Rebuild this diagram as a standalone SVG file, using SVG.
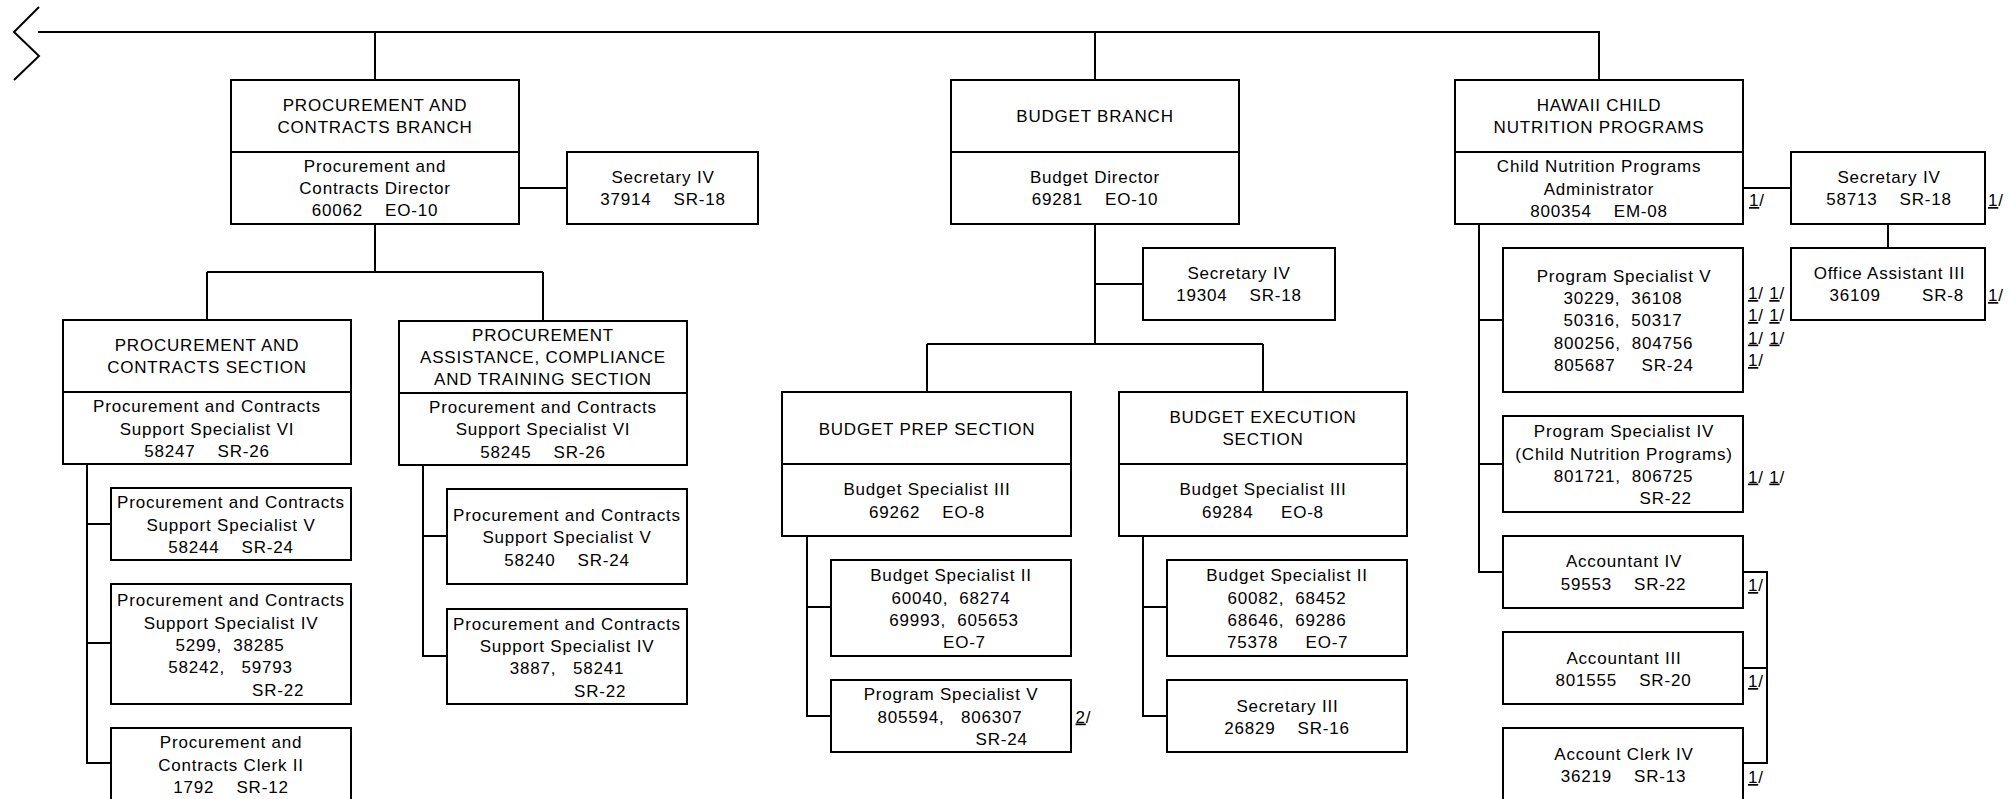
<svg xmlns="http://www.w3.org/2000/svg" width="2008" height="799" viewBox="0 0 2008 799" xml:space="preserve">
<style>
.b{fill:#fff;stroke:#000;stroke-width:2}
.l{fill:none;stroke:#000;stroke-width:2}
text{font-family:"Liberation Sans",Arial,sans-serif;font-size:17px;letter-spacing:0.8px;fill:#000;text-anchor:middle;white-space:pre}
.s{text-anchor:start}
.u{text-decoration:underline}
</style>
<rect width="2008" height="799" fill="#fff"/>
<g id="connectors" class="l">
<polyline points="39,7 14,32 39,56 14,80"/>
<path d="M38,32H1599V80M375,32V80M1095,32V80"/>
<path d="M519,188H567M375,224V272M207,272H543M207,272V320M543,272V321"/>
<path d="M87,464V763H111M87,524H111M87,643H111"/>
<path d="M423,465V656H447M423,536H447"/>
<path d="M1095,224V344M1095,284H1143M927,344H1263M927,344V392M1263,344V392"/>
<path d="M807,536V716H831M807,607H831"/>
<path d="M1143,536V716H1167M1143,607H1167"/>
<path d="M1743,188H1791M1888,224V248M1479,224V572H1503M1479,320H1503M1479,464H1503"/>
<path d="M1743,572H1767V763H1743M1743,668H1767"/>
</g>
<g id="procurement-branch">
<rect class="b" x="231" y="80" width="288" height="144"/><path class="l" d="M231,152H519"/>
<text x="375" y="110.5">PROCUREMENT AND</text>
<text x="375" y="132.5">CONTRACTS BRANCH</text>
<text x="375" y="171.5">Procurement and</text>
<text x="375" y="193.5">Contracts Director</text>
<text x="375" y="216">60062    EO-10</text>
</g>
<g id="secretary-procurement">
<rect class="b" x="567" y="152" width="191" height="72"/>
<text x="663" y="182.5">Secretary IV</text>
<text x="663" y="204.5">37914    SR-18</text>
</g>
<g id="pc-section">
<rect class="b" x="63" y="320" width="288" height="144"/><path class="l" d="M63,392H351"/>
<text x="207" y="351">PROCUREMENT AND</text>
<text x="207" y="373">CONTRACTS SECTION</text>
<text x="207" y="412">Procurement and Contracts</text>
<text x="207" y="434.5">Support Specialist VI</text>
<text x="207" y="456.5">58247    SR-26</text>
</g>
<g id="pact-section">
<rect class="b" x="399" y="321" width="288" height="144"/><path class="l" d="M399,393H687"/>
<text x="543" y="341">PROCUREMENT</text>
<text x="543" y="363">ASSISTANCE, COMPLIANCE</text>
<text x="543" y="385">AND TRAINING SECTION</text>
<text x="543" y="412.5">Procurement and Contracts</text>
<text x="543" y="435">Support Specialist VI</text>
<text x="543" y="457.5">58245    SR-26</text>
</g>
<g id="pcss5-left">
<rect class="b" x="111" y="488" width="240" height="72"/>
<text x="231" y="508">Procurement and Contracts</text>
<text x="231" y="530.5">Support Specialist V</text>
<text x="231" y="552.5">58244    SR-24</text>
</g>
<g id="pcss4-left">
<rect class="b" x="111" y="584" width="240" height="120"/>
<text x="231" y="606">Procurement and Contracts</text>
<text x="231" y="628.5">Support Specialist IV</text>
<text x="230" y="651">5299,  38285</text>
<text x="230.5" y="673">58242,   59793</text>
<text class="s" x="252" y="695.5">SR-22</text>
</g>
<g id="clerk2">
<rect class="b" x="111" y="728" width="240" height="80"/>
<text x="231" y="748">Procurement and</text>
<text x="231" y="770.5">Contracts Clerk II</text>
<text x="231" y="793">1792    SR-12</text>
</g>
<g id="pcss5-right">
<rect class="b" x="447" y="489" width="240" height="95"/>
<text x="567" y="521">Procurement and Contracts</text>
<text x="567" y="543">Support Specialist V</text>
<text x="567" y="565.5">58240    SR-24</text>
</g>
<g id="pcss4-right">
<rect class="b" x="447" y="609" width="240" height="95"/>
<text x="567" y="629.5">Procurement and Contracts</text>
<text x="567" y="652">Support Specialist IV</text>
<text x="567" y="674">3887,   58241</text>
<text class="s" x="574" y="696.5">SR-22</text>
</g>
<g id="budget-branch">
<rect class="b" x="951" y="80" width="288" height="144"/><path class="l" d="M951,152H1239"/>
<text x="1095" y="121.5">BUDGET BRANCH</text>
<text x="1095" y="182.5">Budget Director</text>
<text x="1095" y="205">69281    EO-10</text>
</g>
<g id="secretary-budget">
<rect class="b" x="1143" y="248" width="192" height="72"/>
<text x="1239" y="278.5">Secretary IV</text>
<text x="1239" y="301">19304    SR-18</text>
</g>
<g id="budget-prep">
<rect class="b" x="782" y="392" width="289" height="144"/><path class="l" d="M782,464H1071"/>
<text x="927" y="434.5">BUDGET PREP SECTION</text>
<text x="927" y="494.5">Budget Specialist III</text>
<text x="927" y="517.5">69262    EO-8</text>
</g>
<g id="budget-exec">
<rect class="b" x="1119" y="392" width="288" height="144"/><path class="l" d="M1119,464H1407"/>
<text x="1263" y="422.5">BUDGET EXECUTION</text>
<text x="1263" y="445">SECTION</text>
<text x="1263" y="494.5">Budget Specialist III</text>
<text x="1263" y="517.5">69284     EO-8</text>
</g>
<g id="bs2-prep">
<rect class="b" x="831" y="560" width="240" height="96"/>
<text x="951" y="581">Budget Specialist II</text>
<text x="951" y="603.5">60040,  68274</text>
<text x="954" y="626">69993,  605653</text>
<text class="s" x="943" y="648">EO-7</text>
</g>
<g id="ps5-prep">
<rect class="b" x="831" y="680" width="240" height="72"/>
<text x="951" y="700">Program Specialist V</text>
<text x="950" y="722.5">805594,   806307</text>
<text class="s" x="975.5" y="744.5">SR-24</text>
<text class="s" x="1075.5" y="722.5"><tspan class="u">2</tspan>/</text>
</g>
<g id="bs2-exec">
<rect class="b" x="1167" y="560" width="240" height="96"/>
<text x="1287" y="581">Budget Specialist II</text>
<text x="1287" y="603.5">60082,  68452</text>
<text x="1287" y="626">68646,  69286</text>
<text class="s" y="648"><tspan x="1227">75378</tspan><tspan x="1305.5">EO-7</tspan></text>
</g>
<g id="secretary3">
<rect class="b" x="1167" y="680" width="240" height="72"/>
<text x="1287.5" y="712">Secretary III</text>
<text x="1287" y="734">26829    SR-16</text>
</g>
<g id="hawaii-cnp">
<rect class="b" x="1455" y="80" width="288" height="144"/><path class="l" d="M1455,152H1743"/>
<text x="1599" y="111">HAWAII CHILD</text>
<text x="1599" y="133">NUTRITION PROGRAMS</text>
<text x="1599" y="172">Child Nutrition Programs</text>
<text x="1599" y="194.5">Administrator</text>
<text x="1599" y="216.5">800354    EM-08</text>
<text class="s" x="1749" y="206"><tspan class="u">1</tspan>/</text>
</g>
<g id="secretary-hawaii">
<rect class="b" x="1791" y="152" width="194" height="72"/>
<text x="1889" y="182.5">Secretary IV</text>
<text x="1889" y="205">58713    SR-18</text>
<text class="s" x="1988" y="206"><tspan class="u">1</tspan>/</text>
</g>
<g id="office-assistant3">
<rect class="b" x="1791" y="248" width="194" height="72"/>
<text x="1889.5" y="278.5">Office Assistant III</text>
<text class="s" y="301"><tspan x="1829.5">36109</tspan><tspan x="1922">SR-8</tspan></text>
<text class="s" x="1988" y="301"><tspan class="u">1</tspan>/</text>
</g>
<g id="ps5-hawaii">
<rect class="b" x="1503" y="248" width="240" height="144"/>
<text x="1624" y="282">Program Specialist V</text>
<text x="1623" y="304">30229,  36108</text>
<text x="1623" y="326">50316,  50317</text>
<text x="1623.5" y="349">800256,  804756</text>
<text class="s" y="371"><tspan x="1554">805687</tspan><tspan x="1641.5">SR-24</tspan></text>
<text class="s" x="1748" y="299"><tspan class="u">1</tspan>/ <tspan class="u">1</tspan>/</text>
<text class="s" x="1748" y="321"><tspan class="u">1</tspan>/ <tspan class="u">1</tspan>/</text>
<text class="s" x="1748" y="343.5"><tspan class="u">1</tspan>/ <tspan class="u">1</tspan>/</text>
<text class="s" x="1748" y="366"><tspan class="u">1</tspan>/</text>
</g>
<g id="ps4-hawaii">
<rect class="b" x="1503" y="416" width="240" height="96"/>
<text x="1624" y="437">Program Specialist IV</text>
<text x="1624" y="459.5">(Child Nutrition Programs)</text>
<text x="1623.5" y="481.5">801721,  806725</text>
<text class="s" x="1639.5" y="503.5">SR-22</text>
<text class="s" x="1748" y="482.5"><tspan class="u">1</tspan>/ <tspan class="u">1</tspan>/</text>
</g>
<g id="accountant4">
<rect class="b" x="1503" y="536" width="240" height="72"/>
<text x="1624" y="566.5">Accountant IV</text>
<text x="1623.5" y="590">59553    SR-22</text>
<text class="s" x="1748" y="591"><tspan class="u">1</tspan>/</text>
</g>
<g id="accountant3">
<rect class="b" x="1503" y="632" width="240" height="72"/>
<text x="1624" y="664">Accountant III</text>
<text x="1623.5" y="686">801555    SR-20</text>
<text class="s" x="1748" y="687"><tspan class="u">1</tspan>/</text>
</g>
<g id="account-clerk4">
<rect class="b" x="1503" y="728" width="240" height="80"/>
<text x="1624" y="760">Account Clerk IV</text>
<text x="1623.5" y="782">36219    SR-13</text>
<text class="s" x="1748" y="783"><tspan class="u">1</tspan>/</text>
</g>
</svg>
